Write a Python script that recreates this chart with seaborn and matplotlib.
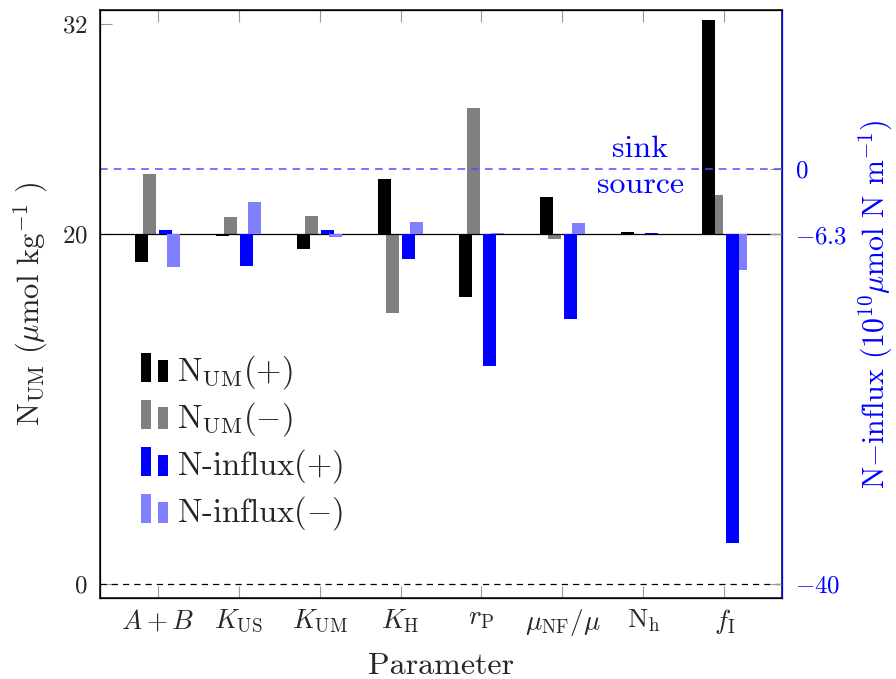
import numpy as np
import pandas as pd
import matplotlib
matplotlib.use("Agg")
import matplotlib.pyplot as plt
import seaborn as sns
from matplotlib.legend_handler import HandlerBase
from matplotlib.patches import Rectangle, Patch

# data
params = [r'$A+B$', r'$K_{\mathrm{US}}$', r'$K_{\mathrm{UM}}$', r'$K_{\mathrm{H}}$',
          r'$r_{\mathrm{P}}$', r'$\mu_{\mathrm{NF}}/\mu$', r'$\mathrm{N_h}$', r'$f_{\mathrm{I}}$']
num_plus = [18.4, 19.92, 19.16, 23.16, 16.4, 22.13, 20.11, 32.23]
num_minus = [23.46, 20.99, 21.06, 15.49, 27.2, 19.75, 19.96, 22.25]
flux_plus = [-5.89, -9.35, -5.89, -8.65, -19.02, -14.43, -6.2, -36.04]
flux_minus = [-9.48, -3.19, -6.56, -5.09, -6.2, -5.21, -6.25, -9.74]
num_base = 20
flux_base = -6.3
left_ticks = [0, 20, 32]
right_ticks = [-40, -6.3, 0]

sns.set_theme(style="white")
plt.rcParams['font.family'] = ['cmr10', 'DejaVu Serif']
plt.rcParams['mathtext.fontset'] = 'cm'
plt.rcParams['axes.unicode_minus'] = False
plt.rcParams['axes.formatter.use_mathtext'] = True

fig = plt.figure(figsize=(8.96, 6.79), dpi=100)
ax = fig.add_axes([100/896, 1-597.7/679, 682/896, 587.4/679])
ax2 = ax.twinx()

pos = np.arange(len(params))
blue = '#0000ff'
lblue = '#8080ff'


def bars(axis, offset, vals, base, color, z):
    d = pd.DataFrame({'x': pos + offset, 'h': np.array(vals) - base})
    sns.barplot(data=d, x='x', y='h', native_scale=True, orient='x', width=0.16,
                color=color, saturation=1, errorbar=None, bottom=base,
                linewidth=0, zorder=z, ax=axis)


bars(ax, -0.1, num_minus, num_base, '#808080', 2)
bars(ax, -0.2, num_plus, num_base, 'black', 3)
bars(ax2, 0.2, flux_minus, flux_base, lblue, 2)
bars(ax2, 0.1, flux_plus, flux_base, blue, 3)

ax.set_ylim(-0.77, 32.8)
ax2.set_ylim(-41.29, 15.29)
ax.set_xlim(-0.71, 7.71)

ax.axhline(num_base, color='black', lw=0.9, zorder=4)
ax.axhline(0, color='black', lw=0.9, ls=(0, (5, 4)), zorder=4)
ax2.axhline(0, color='#5050ff', lw=1.1, ls=(0, (5, 4)), zorder=1)

ax2.text(5.96, 1.16, 'sink', color=blue, fontsize=23, ha='center', va='baseline')
ax2.text(5.96, -2.31, 'source', color=blue, fontsize=23, ha='center', va='baseline')

ax.set_xticks(pos)
ax.set_xticklabels(params, fontsize=19.5)
ax.set_yticks(left_ticks)
ax.set_yticklabels([f'${t}$' for t in left_ticks], fontsize=18)
ax2.set_yticks(right_ticks)
ax2.set_yticklabels([f'${t}$' for t in right_ticks], fontsize=18, color=blue)

ax.tick_params(axis='x', direction='in', length=8.5, color='#999999', top=True,
               bottom=True, pad=7, width=0.8)
ax.tick_params(axis='y', direction='in', length=8.5, color='#999999', pad=9, width=0.8)
ax2.tick_params(axis='y', direction='in', length=8.5, color='#999999', pad=9, width=0.8)

for s in ['left', 'top', 'bottom']:
    ax2.spines[s].set_color('black')
    ax2.spines[s].set_linewidth(0.9)
ax2.spines['right'].set_color(blue)
ax2.spines['right'].set_linewidth(0.9)

ax.set_xlabel('Parameter', fontsize=23, labelpad=10)
ax.set_ylabel(r'N$_{\mathrm{UM}}$ ($\mu$mol kg$^{-1}$ )', fontsize=22, labelpad=8)
ax2.set_ylabel(r'N$-$influx (10$^{10}\mu$mol N m$^{-1}$)', fontsize=21.5,
               color=blue, labelpad=7)


class TwoBars(HandlerBase):
    def create_artists(self, legend, orig_handle, xdescent, ydescent, width, height,
                       fontsize, trans):
        c = orig_handle.get_facecolor()
        w = width * 0.37
        r1 = Rectangle((-xdescent, -ydescent - 0.1 * height), w, height * 1.35,
                       facecolor=c, edgecolor='none', transform=trans)
        r2 = Rectangle((-xdescent + width * 0.63, -ydescent - 0.1 * height), w, height,
                       facecolor=c, edgecolor='none', transform=trans)
        return [r1, r2]


handles = [Patch(facecolor='black'), Patch(facecolor='#808080'),
           Patch(facecolor=blue), Patch(facecolor=lblue)]
labels = [r'$\mathrm{N_{UM}}(+)$', r'$\mathrm{N_{UM}}(-)$',
          r'N-influx$(+)$', r'N-influx$(-)$']
ax2.legend(handles, labels, handler_map={Patch: TwoBars()}, loc='center left',
           bbox_to_anchor=(0.06, 0.264), frameon=False, fontsize=23.5,
           handlelength=0.82, handleheight=0.65, handletextpad=0.3,
           labelspacing=0.28, borderpad=0, borderaxespad=0)

fig.savefig('out.png', dpi=100)
